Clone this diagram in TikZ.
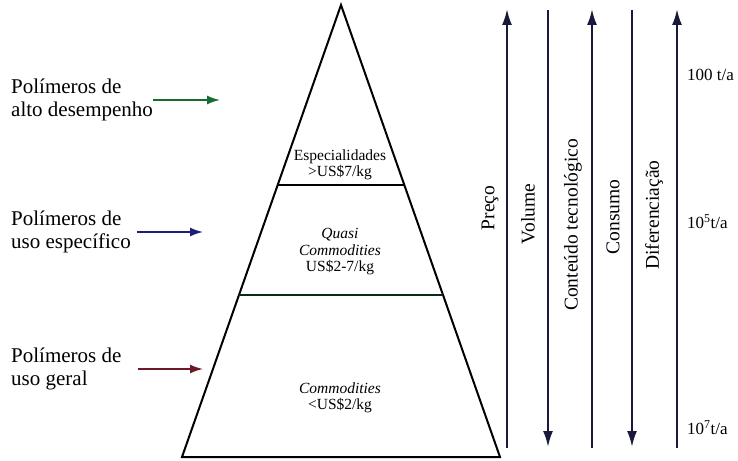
\documentclass[tikz,border=0pt]{standalone}
\usepackage{fontspec}
\setmainfont{Liberation Serif}
\usepackage{xcolor}
\usepackage{tikz}
\usetikzlibrary{arrows.meta,calc}
\definecolor{altogreen}{RGB}{20,110,50}
\definecolor{usoblue}{RGB}{30,30,120}
\definecolor{geralred}{RGB}{110,25,40}
\definecolor{axisblue}{RGB}{25,25,60}
\tikzstyle{grupo} = [align=left, inner sep=0pt, font=\fontsize{21}{23}\selectfont]
\tikzstyle{nivel} = [align=center, inner sep=0pt, font=\fontsize{15.5}{16.5}\selectfont]
\tikzstyle{eixo} = [rotate=90, inner sep=0pt, font=\fontsize{19.5}{20}\selectfont]
\tikzstyle{escala} = [anchor=west, inner sep=0pt, font=\fontsize{17}{17}\selectfont]
\tikzstyle{ponteiro} = [line width=1.6pt, -{Latex[length=13pt,width=9pt]}]
\tikzstyle{seta} = [line width=2.2pt, color=axisblue, -{Latex[length=16pt,width=10pt]}]

\begin{document}
\begin{tikzpicture}[x=1pt,y=-1pt]
    \useasboundingbox (0,0) rectangle (738,460);
    % piramide
    \coordinate (topo) at (341,5);
    \coordinate (esq) at (182,457);
    \coordinate (dir) at (500,457);
    \draw[line width=2pt, line join=miter] (topo) -- (esq) -- (dir) -- cycle;
    \draw[line width=1.6pt] ($(topo)!0.398!(esq)$) -- ($(topo)!0.398!(dir)$);
    \draw[line width=1.6pt, altogreen!40!black] ($(topo)!0.642!(esq)$) -- ($(topo)!0.642!(dir)$);
    \node[nivel] (espec) at (340,165) {Especialidades\\>US\$7/kg};
    \node[nivel] (quasi) at (340,252) {\textit{Quasi}\\\textit{Commodities}\\US\$2-7/kg};
    \node[nivel] (commod) at (340,398) {\textit{Commodities}\\<US\$2/kg};

    % grupos de polimeros
    \node[grupo, anchor=west] (alto) at (11,100) {Polímeros de\\alto desempenho};
    \node[grupo, anchor=west] (especifico) at (11,232) {Polímeros de\\uso específico};
    \node[grupo, anchor=west] (geral) at (11,369) {Polímeros de\\uso geral};
    \coordinate (altoponta) at (220,100);
    \coordinate (especponta) at (203,232);
    \coordinate (geralponta) at (203,369);
    \draw[ponteiro, altogreen] (alto.east) -- (altoponta);
    \draw[ponteiro, usoblue, shorten <=6pt] (especifico.east) -- (especponta);
    \draw[ponteiro, geralred, shorten <=16pt] (geral.east) -- (geralponta);

    % eixos
    \coordinate (preco-a) at (507,448);
    \coordinate (preco-b) at (507,9);
    \coordinate (volume-a) at (548,10);
    \coordinate (volume-b) at (548,447);
    \coordinate (conteudo-a) at (592,448);
    \coordinate (conteudo-b) at (592,9);
    \coordinate (consumo-a) at (632,10);
    \coordinate (consumo-b) at (632,447);
    \coordinate (difer-a) at (677,448);
    \coordinate (difer-b) at (677,9);
    \draw[seta] (preco-a) -- (preco-b);
    \draw[seta] (volume-a) -- (volume-b);
    \draw[seta] (conteudo-a) -- (conteudo-b);
    \draw[seta] (consumo-a) -- (consumo-b);
    \draw[seta] (difer-a) -- (difer-b);
    \node[eixo] (preco) at (490,208) {Preço};
    \node[eixo] (volume) at (528,214) {Volume};
    \node[eixo] (conteudo) at (573,225) {Conteúdo tecnológico};
    \node[eixo] (consumo) at (613,217) {Consumo};
    \node[eixo] (difer) at (654,215) {Diferenciação};

    % escala
    \node[escala] (cem) at (687,75) {100 t/a};
    \node[escala] (dezcinco) at (687,222) {10\textsuperscript{5}t/a};
    \node[escala] (dezsete) at (687,428) {10\textsuperscript{7}t/a};
\end{tikzpicture}
\end{document}
